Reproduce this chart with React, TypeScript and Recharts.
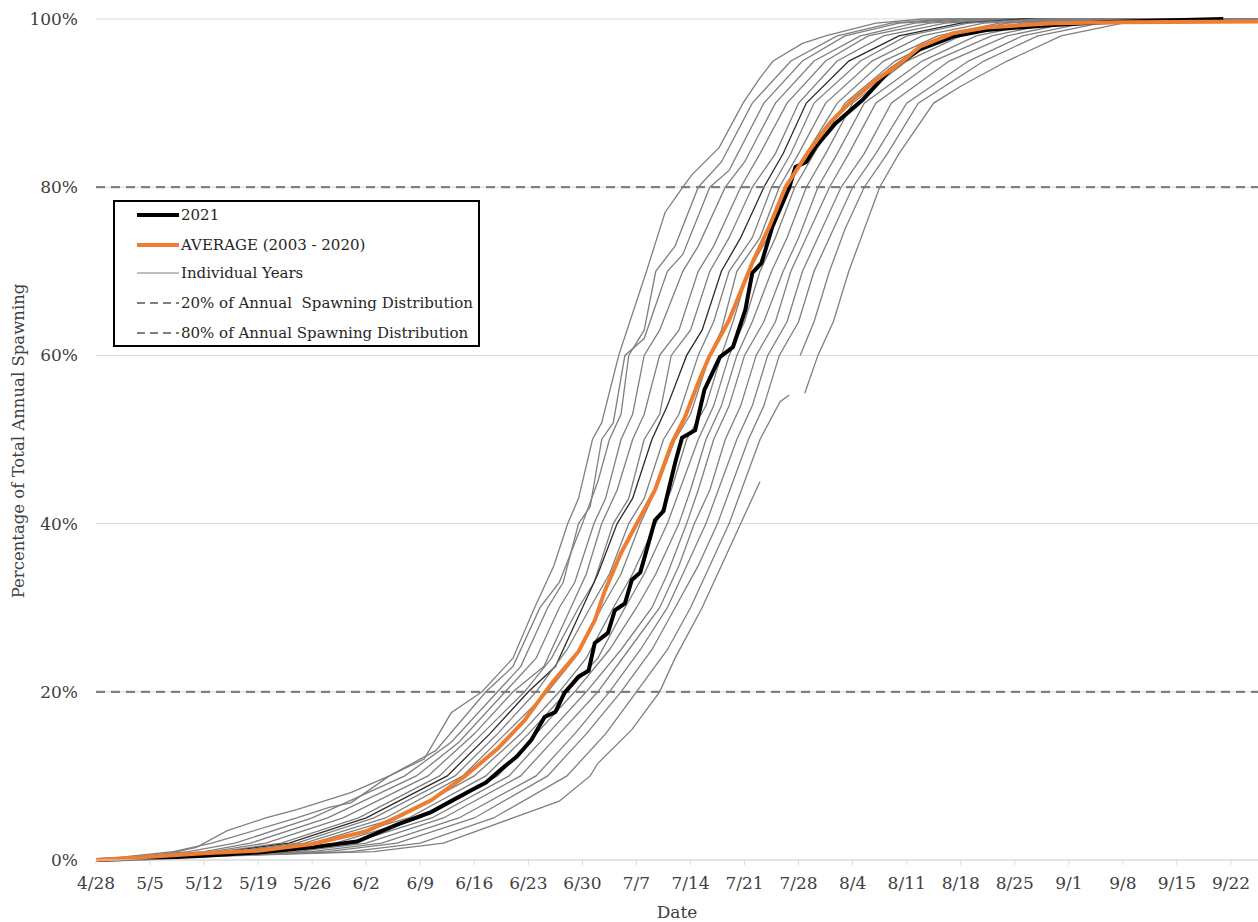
import { LineChart, Line, XAxis, YAxis, CartesianGrid } from "recharts";

// day 0 = 4/28
const TICK_DAYS = [0, 7, 14, 21, 28, 35, 42, 49, 56, 63, 70, 77, 84, 91, 98, 105, 112, 119, 126, 133, 140, 147];
const TICK_LABELS = ["4/28", "5/5", "5/12", "5/19", "5/26", "6/2", "6/9", "6/16", "6/23", "6/30", "7/7", "7/14", "7/21", "7/28", "8/4", "8/11", "8/18", "8/25", "9/1", "9/8", "9/15", "9/22"];
const PCT_TICKS = [0, 20, 40, 60, 80, 100];

type Pt = [number, number | null];

const y2021: Pt[] = [[0,0],[7,0.2],[14,0.5],[21,0.9],[28,1.5],[33.8,2.2],[39,4.2],[43.4,5.7],[46,7],[48.6,8.3],[50.5,9.2],[52.9,11.1],[54.5,12.3],[56.4,14.3],[58.1,17],[59.5,17.6],[60.7,19.9],[62.5,21.8],[63.8,22.5],[64.6,25.8],[66.3,27],[67.2,29.7],[68.5,30.5],[69.4,33.3],[70.5,34.2],[72.4,40.4],[73.5,41.5],[75,47.2],[75.9,50.2],[77.6,51.1],[78.8,55.9],[80.8,59.8],[82.5,61],[84.1,65.4],[85,69.8],[86.2,71],[87.6,75.3],[89.8,80],[90.6,82.4],[92,83],[93.2,84.8],[95.8,87.6],[99.3,90.4],[102.8,93.9],[106.7,96.4],[111,97.9],[115.3,98.7],[124,99.3],[130.5,99.6],[137,99.8],[146,100]];

const average: Pt[] = [[0,0],[7,0.4],[14,0.8],[21,1.1],[28,1.9],[30.4,2.4],[35,3.4],[39,5.1],[43.4,7.1],[47.7,9.9],[52.1,13.3],[55.5,16.6],[59,21],[62.5,24.8],[64.6,28.5],[65.9,32],[68,36.5],[69.8,39.6],[72.4,44],[74.6,49.6],[76.3,52.7],[78.1,57],[79.4,59.8],[82,64.2],[85,71],[87.2,75.3],[89.3,80],[92.4,84.4],[95,87.6],[98,90.4],[101,92.7],[104.5,95],[106.7,96.7],[111,98.3],[115.3,99],[124,99.5],[133,99.6],[150.5,99.7]];

const y2003: Pt[] = [[0,0],[8,0.5],[13,1.5],[17,3.5],[22,5],[26,6],[33,8],[38,10],[42.5,12],[46,17.5],[50,20],[54,24],[56.8,30],[59.3,35],[61.1,40],[62.5,43],[64.3,50],[65.5,52],[67.7,60],[71.3,70],[73.7,77],[76,80],[77.2,81.5],[80.7,84.7],[83.8,90],[86,93],[87.7,95],[91.5,97.1],[94.5,98],[101,99.5],[107,100],[150.5,100]];
const y2004: Pt[] = [[0,0],[10,1],[15,2],[26,5],[30.3,6.3],[33,6.8],[38,10],[44,13],[50.5,20],[54,23],[57.5,30],[60,33],[63,40],[65,45],[66.5,50],[68,53],[69,60],[71,63],[72.5,70],[75,73],[78,80],[81,83],[85,90],[90,95],[96,98],[103,99.5],[110,100],[150.5,100]];
const y2005: Pt[] = [[0,0],[12,1],[18,2],[28,5],[40,10],[46,14],[52,20],[55,23],[58.5,30],[60.5,33],[62.5,40],[64,42],[65.5,50],[67,52],[68.5,60],[71,62],[74,70],[76,72],[79.5,80],[82,82],[86.5,90],[91.5,95],[97,98],[104,99.5],[112,100],[150.5,100]];
const y2006: Pt[] = [[0,0],[14,1],[20,2],[30,5],[41.5,10],[47,14],[53,20],[57,24],[60,30],[62,33],[64.5,40],[66,43],[68,50],[69.5,53],[71,60],[73,63],[76,70],[78,73],[81.5,80],[84,83],[88,90],[93,95],[99,98],[106,99.5],[114,100],[150.5,100]];
const y2007: Pt[] = [[0,0],[15,1],[22,2],[32,5],[43,10],[49,15],[54,20],[58,23],[61.5,30],[63.5,34],[65.5,40],[67.5,44],[69.5,50],[71,53],[73,60],[75.5,63],[78,70],[80,73],[83.5,80],[86,84],[89.5,90],[94.5,95],[100,98],[108,99.5],[116,100],[150.5,100]];
const y2008: Pt[] = [[0,0],[16,1],[24,2],[34,5],[44.5,10],[50,15],[55.5,20],[59,24],[62.5,30],[64.5,33],[67,40],[69,43],[71,50],[73,53],[74.5,60],[77,63],[79.5,70],[82,74],[85,80],[88,84],[91,90],[96,95],[102,98],[110,99.5],[118,100],[150.5,100]];
const y2009: Pt[] = [[0,0],[17,1],[25,2],[35,5],[45.5,10],[51,15],[56,20],[59.5,23],[63,30],[65,34],[67.5,40],[69.5,43],[72,50],[74,54],[76.5,60],[78.5,63],[81,70],[83.5,74],[86.5,80],[89,84],[92,90],[97.5,95],[104,98],[112,99.5],[120,100],[150.5,100]];
const y2010: Pt[] = [[0,0],[18,1],[26,2],[36,5],[46.5,10],[52,15],[57,20],[61,25],[64,30],[66.5,34],[69,40],[71,43],[73.5,50],[75.5,53],[78,60],[80,64],[82,70],[85,74],[87.5,80],[90,84],[93,90],[99,95],[105,98],[113,99.5],[122,100],[150.5,100]];
const y2011: Pt[] = [[0,0],[19,1],[27,2],[37.5,5],[47.5,10],[53,15],[58.5,20],[62,24],[65.5,30],[68,34],[70.5,40],[72.5,44],[75,50],[77,53],[79.5,60],[81,63],[83,70],[86,74],[88.5,80],[91,84],[94.5,90],[100.5,95],[107,98],[115,99.5],[124,100],[150.5,100]];
const y2012: Pt[] = [[0,0],[20,1],[28,2],[39,5],[49,10],[55,15],[60,20],[63.5,24],[67,30],[69.5,34],[72.5,40],[74.5,44],[76.5,50],[79,54],[81,60],[82.5,64],[84.5,70],[87,74],[89.5,80],[92,84],[96,90],[102,95],[109,98],[117,99.5],[126,100],[150.5,100]];
const y2013: Pt[] = [[0,0],[21,1],[29,2],[40.5,5],[50.5,10],[56,15],[61,20],[65,24],[68.5,30],[71,34],[74,40],[76,45],[78,50],[80,54],[82,60],[84,64],[86,70],[88,74],[90.5,80],[93,84],[97,90],[103.5,95],[110,98],[118,99.5],[128,100],[150.5,100]];
const y2014: Pt[] = [[0,0],[22,1],[31,2],[42,5],[52,10],[57,15],[62,20],[66.5,25],[70,30],[72.5,34],[75.5,40],[77,44],[79,50],[81,54],[83,60],[85,64],[87.5,70],[89.5,74],[92,80],[94.5,84],[98,90],[105,95],[112,98],[120,99.5],[130,100],[150.5,100]];
const y2015: Pt[] = [[0,0],[24,1],[33,2],[43.5,5],[53.5,10],[58.5,15],[63.5,20],[68,25],[72,30],[74,34],[76.5,40],[78,44],[80,50],[82,54],[84,60],[86.5,64],[89,70],[91,74],[93.5,80],[96,84],[99.5,90],[107,95],[114,98],[122,99.5],[132,100],[150.5,100]];
const y2016: Pt[] = [[0,0],[26,1],[35,2],[45,5],[55,10],[60,15],[65,20],[69,25],[73,30],[75.5,35],[77.5,40],[79.5,44],[81.5,50],[83.5,54],[85.5,60],[88,64],[90,70],[92.5,75],[95,80],[97.5,84],[101,90],[108.5,95],[116,98],[124,99.5],[134,100],[150.5,100]];
const y2017: Pt[] = [[0,0],[28,1],[37,2],[47,5],[57,10],[62,15],[66.5,20],[70.5,25],[74,30],[76.5,35],[79,40],[81,45],[83,50],[85,54],[87,60],[89.5,64],[91.5,70],[94,75],[96.5,80],[99.5,84],[103,90],[110.5,95],[118,98],[126,99.5],[136,100],[150.5,100]];
const y2018: Pt[] = [[0,0],[30,1],[39,2],[49,5],[58.5,10],[63.5,15],[68,20],[72,25],[75,30],[78,35],[80.5,40],[82.5,45],[84.5,50],[86.5,54],[88.5,60],[91,64],[93,70],[95.5,75],[98,80],[101,84],[105,90],[113,95],[120,98],[128,99.5],[138,100],[150.5,100]];
const y2019: Pt[] = [[0,0],[33,1],[42,2],[51.5,5],[61,10],[66,15],[70,20],[74,25],[77,30],[79.5,35],[82,40],[84,45],[86,50],[88.6,54.5],[89.8,55.3],[90.2,null],[91.2,60],[93,64],[95,70],[97,75],[99.5,80],[102.5,84],[106.5,90],[115,95],[122,98],[130,99.5],[140,100],[150.5,100]];
const y2020: Pt[] = [[0,0],[36,1],[45,2],[54,5],[60,7],[64,10],[65,11.5],[69.4,15.5],[73,20],[75,24],[78.5,30],[81,35],[83.5,40],[86,45],[86.5,null],[91.8,55.5],[93.5,60],[95.5,64],[97.5,70],[99.5,75],[101.5,80],[104,84],[108.5,90],[112,92],[118,95],[125,98],[133,99.5],[142,100],[150.5,100]];

const YEARS = [y2003, y2004, y2005, y2006, y2007, y2008, y2009, y2010, y2011, y2012, y2013, y2014, y2015, y2016, y2017, y2018, y2019, y2020];
const DARK_YEARS = [y2009];

const line20: Pt[] = [[0, 20], [150.5, 20]];
const line80: Pt[] = [[0, 80], [150.5, 80]];

const toPoints = (arr: Pt[]) => arr.map(([day, pct]) => ({ day, pct }));

const FONT = "'DejaVu Serif', 'Liberation Serif', serif";
const GRAY = "#7f7f7f";
const ORANGE = "#ED7D31";
const DASH = "#7F7F7F";

const legendItems = [
  { label: "2021", color: "#000", width: 4, dash: undefined },
  { label: "AVERAGE (2003 - 2020)", color: ORANGE, width: 4, dash: undefined },
  { label: "Individual Years", color: GRAY, width: 1.2, dash: undefined },
  { label: "20% of Annual  Spawning Distribution", color: DASH, width: 2, dash: "8 5" },
  { label: "80% of Annual Spawning Distribution", color: DASH, width: 2, dash: "8 5" },
];
const legendRows = [15, 45, 73, 103, 133];

export default function App() {
  return (
    <div style={{ position: "absolute", left: 0, top: 0, width: 1258, height: 922, background: "#fff", overflow: "hidden" }}>
      <LineChart width={1258} height={922} margin={{ top: 19, right: 0, bottom: 0, left: 0 }} style={{ fontFamily: FONT }}>
        <CartesianGrid vertical={false} stroke="#D9D9D9" strokeWidth={1} />
        <XAxis
          dataKey="day"
          type="number"
          domain={[0, 150.5]}
          ticks={TICK_DAYS}
          tickFormatter={(d: number) => TICK_LABELS[TICK_DAYS.indexOf(d)]}
          height={62}
          stroke="#D9D9D9"
          tickSize={5}
          tickMargin={12}
          tick={{ fill: "#404040", fontSize: 17, fontFamily: FONT }}
          interval={0}
          allowDataOverflow
          label={{
            content: () => (
              <text x={677} y={918} textAnchor="middle" fill="#404040" fontSize={17} fontFamily={FONT}>
                Date
              </text>
            ),
          }}
        />
        <YAxis
          type="number"
          domain={[0, 100]}
          ticks={PCT_TICKS}
          tickFormatter={(v: number) => `${v}%`}
          width={96}
          axisLine={false}
          tickLine={false}
          tickSize={0}
          tickMargin={18}
          tick={{ fill: "#404040", fontSize: 17, fontFamily: FONT }}
          interval={0}
          label={{
            content: () => (
              <text x={24} y={441} transform="rotate(-90 24 441)" textAnchor="middle" fill="#404040" fontSize={16.5} fontFamily={FONT}>
                Percentage of Total Annual Spawning
              </text>
            ),
          }}
        />
        {YEARS.map((yr, i) => (
          <Line
            key={`yr${i}`}
            data={toPoints(yr)}
            dataKey="pct"
            type="linear"
            stroke={DARK_YEARS.includes(yr) ? "#2a2a2a" : GRAY}
            strokeWidth={1.3}
            dot={false}
            activeDot={false}
            isAnimationActive={false}
          />
        ))}
        <Line data={toPoints(line20)} dataKey="pct" stroke={DASH} strokeWidth={2.2} strokeDasharray="9 6" dot={false} activeDot={false} isAnimationActive={false} />
        <Line data={toPoints(line80)} dataKey="pct" stroke={DASH} strokeWidth={2.2} strokeDasharray="9 6" dot={false} activeDot={false} isAnimationActive={false} />
        <Line data={toPoints(y2021)} dataKey="pct" stroke="#000" strokeWidth={4} dot={false} activeDot={false} isAnimationActive={false} />
        <Line data={toPoints(average)} dataKey="pct" stroke={ORANGE} strokeWidth={4} dot={false} activeDot={false} isAnimationActive={false} />
      </LineChart>
      <div
        style={{
          position: "absolute",
          left: 113,
          top: 200,
          width: 367,
          height: 147,
          border: "2px solid #000",
          boxSizing: "border-box",
          background: "#fff",
          fontFamily: FONT,
          fontSize: 15,
          color: "#262626",
        }}
      >
        {legendItems.map((it, i) => (
          <div
            key={it.label}
            style={{ position: "absolute", left: 21, top: legendRows[i] - 2 - 12, height: 24, display: "flex", alignItems: "center", whiteSpace: "pre" }}
          >
            <svg width={44} height={10} style={{ display: "block" }}>
              <line x1={1} y1={5} x2={43} y2={5} stroke={it.color} strokeWidth={it.width} strokeDasharray={it.dash} />
            </svg>
            <span style={{ marginLeft: 1 }}>{it.label}</span>
          </div>
        ))}
      </div>
    </div>
  );
}
